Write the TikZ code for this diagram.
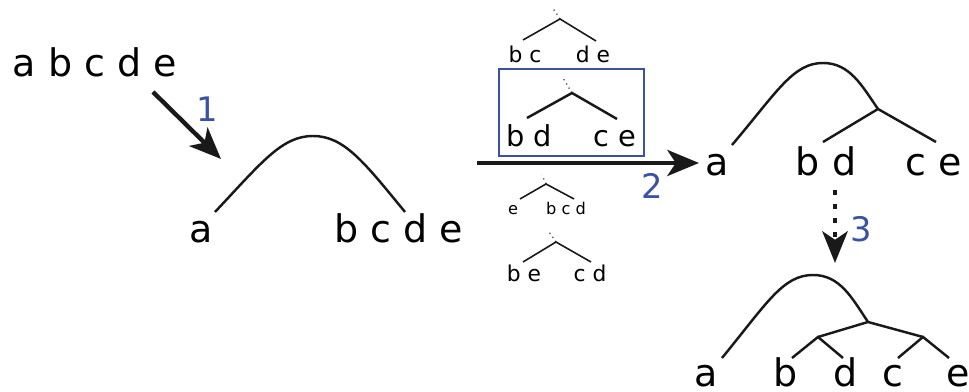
\documentclass[tikz,border=0pt]{standalone}
\usepackage{fontspec}
\setmainfont{DejaVu Sans}
\usetikzlibrary{arrows.meta}
\definecolor{stepblue}{RGB}{58,82,162}

\begin{document}
\begin{tikzpicture}[
    x=0.01cm, y=-0.01cm,
    every node/.style={inner sep=0pt, anchor=base},
    big/.style={font=\fontsize{10.8}{13}\selectfont},
    mid/.style={font=\fontsize{8.2}{10}\selectfont},
    small/.style={font=\fontsize{6.2}{8}\selectfont},
    tiny/.style={font=\fontsize{4.6}{6}\selectfont},
    num/.style={anchor=center, text=stepblue, font=\fontsize{9.6}{12}\selectfont},
    branch/.style={line width=0.7pt, black!90},
    thin/.style={line width=0.45pt, black!90},
    stub/.style={line width=0.4pt, black!60, densely dotted},
    bigarrow/.style={-{Stealth[length=9pt, width=7.4pt, inset=2.4pt]}, line width=1.25pt, black!90},
    dotarrow/.style={-{Stealth[length=9pt, width=7.2pt, inset=2.4pt]}, line width=1.3pt, black!90,
        dash pattern=on 1.3pt off 2.7pt}
]
\useasboundingbox (0,0) rectangle (969,392);

% input and first split
\node[big] (input) at (95,77) {a b c d e};
\node[big] (la) at (201,243) {a};
\node[big] (lbcde) at (399,243) {b c d e};
\coordinate (s1) at (153,92);
\coordinate (t1) at (221,159);
\draw[bigarrow] (s1) -- (t1);
\node[num] (n1) at (207,109) {1};
\coordinate (la top) at (215,212);
\coordinate (lbcde top) at (405,212);
\draw[branch] (la top) .. controls (262,162) and (282,136) .. (313,136)
    .. controls (344,136) and (364,162) .. (lbcde top);

% candidate splits
\coordinate (c1) at (560,19);
\node[small] (c1l) at (525,63) {b c};
\node[small] (c1r) at (593,63) {d e};
\draw[stub] (c1) -- (552,7);
\draw[thin] (523,40) -- (c1) -- (596,41);

\node[draw=stepblue, line width=0.6pt, anchor=north west,
    inner sep=0pt, minimum width=1.45cm, minimum height=0.87cm] (best) at (498,68) {};
\coordinate (c2) at (572,93);
\node[mid] (c2l) at (529,147) {b d};
\node[mid] (c2r) at (615,147) {c e};
\draw[stub] (c2) -- (563,78);
\draw[branch] (527,118) -- (c2) -- (617,119);

\coordinate (c3) at (546,184);
\node[tiny] (c3l) at (513,215) {e};
\node[tiny] (c3r) at (566,215) {b c d};
\draw[stub] (c3) -- (542,175);
\draw[thin] (520,199) -- (c3) -- (574,199);

\coordinate (c4) at (556,242);
\node[small] (c4l) at (524,282) {b e};
\node[small] (c4r) at (590,282) {c d};
\draw[stub] (c4) -- (549,232);
\draw[thin] (523,262) -- (c4) -- (591,262);

\coordinate (s2) at (477,163);
\coordinate (t2) at (699,163);
\draw[bigarrow] (s2) -- (t2);
\node[num] (n2) at (652,186) {2};

% tree after second split
\node[big] (ra) at (717,176) {a};
\node[big] (rbd) at (826,176) {b d};
\node[big] (rce) at (934,176) {c e};
\coordinate (rj) at (878,109);
\draw[branch] (732,145) .. controls (777,92) and (793,63) .. (823,63)
    .. controls (850,63) and (862,86) .. (rj);
\draw[branch] (823,142) -- (rj) -- (936,142);

\coordinate (s3) at (835,190);
\coordinate (t3) at (835,263);
\draw[dotarrow] (s3) -- (t3);
\node[num] (n3) at (861,229) {3};

% final tree
\node[big] (fa) at (706,387) {a};
\node[big] (fb) at (786,387) {b};
\node[big] (fd) at (846,387) {d};
\node[big] (fc) at (893,387) {c};
\node[big] (fe) at (958,387) {e};
\coordinate (fj) at (868,322);
\coordinate (fl) at (818,337);
\coordinate (fr) at (923,337);
\draw[branch] (722,358) .. controls (767,303) and (783,275) .. (813,275)
    .. controls (840,275) and (852,298) .. (fj);
\draw[branch] (fl) -- (fj) -- (fr);
\draw[branch] (792,358) -- (fl) -- (843,358);
\draw[branch] (898,358) -- (fr) -- (949,358);

\end{tikzpicture}
\end{document}
